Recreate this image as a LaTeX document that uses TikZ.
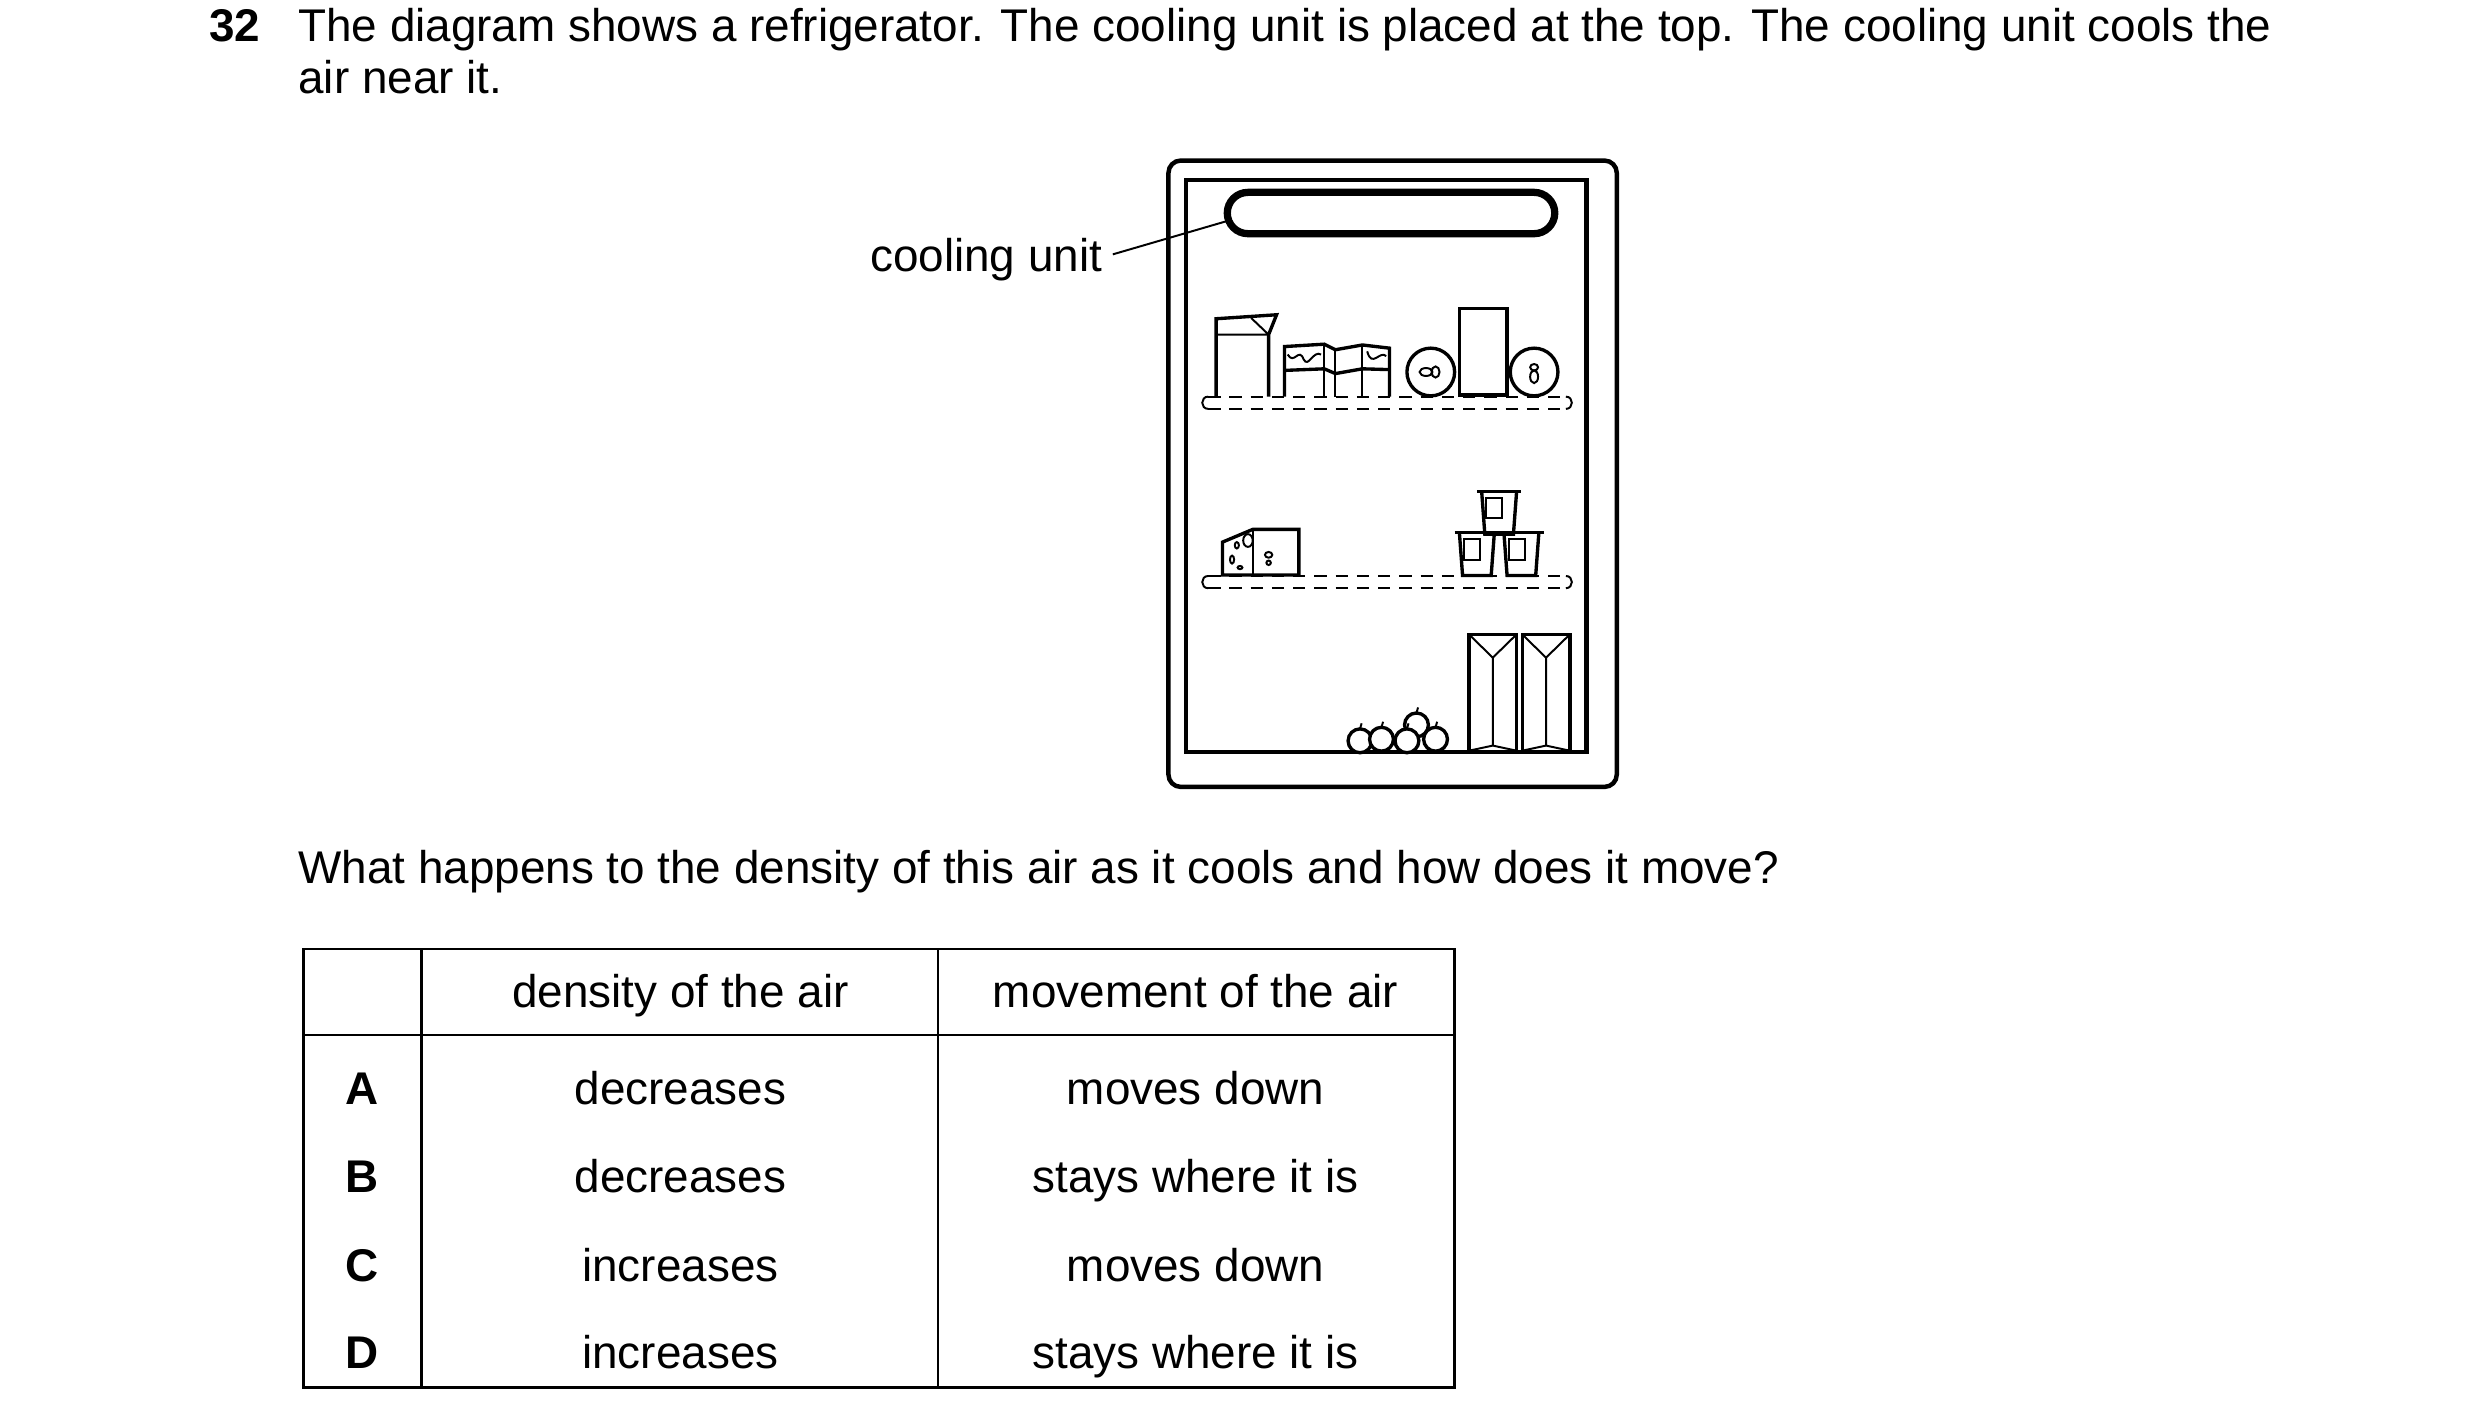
\documentclass[tikz,border=0pt]{standalone}
\usepackage{fontspec}
\setmainfont{Liberation Sans}
\begin{document}
\begin{tikzpicture}[x=0.01cm,y=-0.01cm,
  txt/.style={inner sep=0pt,font=\fontsize{8.2}{10}\selectfont},
  ol/.style={line width=0.6pt},
  th/.style={line width=0.35pt},
  shelf/.style={line width=0.4pt,dash pattern=on 2.2pt off 1.6pt}]
\useasboundingbox (0,0) rectangle (1560,894);
% texts
\node[txt,anchor=base west,font=\fontsize{8.2}{10}\selectfont\bfseries] (num) at (131,26) {32};
\node[txt,anchor=base west] (l1) at (187,26) {The diagram shows a refrigerator. The cooling unit is placed at the top. The cooling unit cools the};
\node[txt,anchor=base west] (l2) at (187,59) {air near it.};
\node[txt,anchor=base west] (q) at (187,556) {What happens to the density of this air as it cools and how does it move?};
% fridge
\draw[line width=0.8pt,rounded corners=2.2pt] (735,101) rectangle (1017,495);
\draw[line width=0.75pt] (746,113) rectangle (998,473);
\draw[line width=1.3pt,rounded corners=1.3mm] (772,121) rectangle (978,147);
\node[txt,anchor=base east] (cl) at (694,171) {cooling unit};
\coordinate (cle) at (700,160);
\coordinate (cut) at (772,139);
\draw[th] (cle) -- (cut);
% shelves
\foreach \y in {249.5,362.3}{
 \draw[shelf] (760,\y) -- (985,\y);
 \draw[shelf] (760,\y+7.7) -- (985,\y+7.7);
 \draw[th] (760,\y) .. controls (755,\y) and (755,\y+7.7) .. (760,\y+7.7);
 \draw[th] (985,\y) .. controls (990,\y) and (990,\y+7.7) .. (985,\y+7.7);
}
% shelf 1 items
\draw[ol] (765,249.5) -- (765,200.5) -- (803,198) -- (798,210.5) -- (798,249.5);
\draw[th] (765,210.5) -- (798,210.5) (787,200) -- (798,210.5);
\draw[ol] (808,249.5) -- (808,218) -- (833,216.5) -- (840,220) -- (857,217) -- (874,219) -- (874,249.5);
\draw[ol] (808,233) -- (833,232) -- (840,235) -- (857,232) -- (874,232.5);
\draw[th] (833,216.5) -- (833,249.5) (840,220) -- (840,249.5) (857,217) -- (857,249.5);
\draw[th] (810,223) .. controls (814,230) and (817,218) .. (820,226) .. controls (823,232) and (826,220) .. (831,223);
\draw[th] (860,221) .. controls (863,232) and (868,220) .. (872,224);
\draw[ol] (900,234) circle[radius=15];
\draw[th] (897,234) ellipse[x radius=4,y radius=2.5] (903,234) ellipse[x radius=2.5,y radius=3.5];
\draw[ol] (918,248.5) rectangle (948,194);
\draw[ol] (965,234) circle[radius=15];
\draw[th] (965,231) ellipse[x radius=2.5,y radius=2] (965,237) ellipse[x radius=2.5,y radius=4];
% cheese
\draw[ol] (769,361.7) -- (769,341) -- (788,333) -- (817,333) -- (817,361.7) -- cycle;
\draw[th] (788,333) -- (788,361.7);
\draw[th] (785,340) ellipse[x radius=3,y radius=4] (778,343) ellipse[x radius=1.3,y radius=2] (775,352) ellipse[x radius=1.3,y radius=2.5] (780,357) ellipse[x radius=1.5,y radius=1] (798,349) ellipse[x radius=2.3,y radius=1.8] (798,354) circle[radius=1.4];
% yogurts
\foreach \xa/\ya in {943/309,929/335,957/335}{
 \draw[ol] (\xa-14,\ya) -- (\xa+14,\ya);
 \draw[ol] (\xa-11,\ya) -- (\xa-9,\ya+27) -- (\xa+9,\ya+27) -- (\xa+11,\ya);
 \draw[th] (\xa-8,\ya+4) rectangle (\xa+2,\ya+17);
}
% bottom cartons
\foreach \xa in {924,957.5}{
 \draw[ol] (\xa,473) rectangle (\xa+30,399);
 \draw[th] (\xa+1,400) -- (\xa+15,413.7) -- (\xa+29,400) (\xa+15,413.7) -- (\xa+15,469) (\xa+1,472) -- (\xa+15,469) -- (\xa+29,472);
}
% apples
\foreach \xa/\ya in {891/456,855.5/466,869/465,903/465,885/466}{
 \draw[ol,fill=white] (\xa,\ya) circle[radius=7.5];
 \draw[th] (\xa,\ya-7.5) -- (\xa+1,\ya-11);
}
% table
\draw[line width=0.5pt] (191,597) rectangle (915,873);
\draw[line width=0.5pt] (265,597) -- (265,873) (590,597) -- (590,873) (191,651) -- (915,651);
\node[txt,anchor=base] (h1) at (428,634) {density of the air};
\node[txt,anchor=base] (h2) at (752,634) {movement of the air};
\foreach \l/\d/\m/\y in {A/decreases/moves down/695,B/decreases/stays where it is/750,C/increases/moves down/806,D/increases/stays where it is/861}{
 \node[txt,anchor=base,font=\fontsize{8.2}{10}\selectfont\bfseries] (r\l) at (228,\y) {\l};
 \node[txt,anchor=base] (d\l) at (428,\y) {\d};
 \node[txt,anchor=base] (m\l) at (752,\y) {\m};
}
\end{tikzpicture}
\end{document}
